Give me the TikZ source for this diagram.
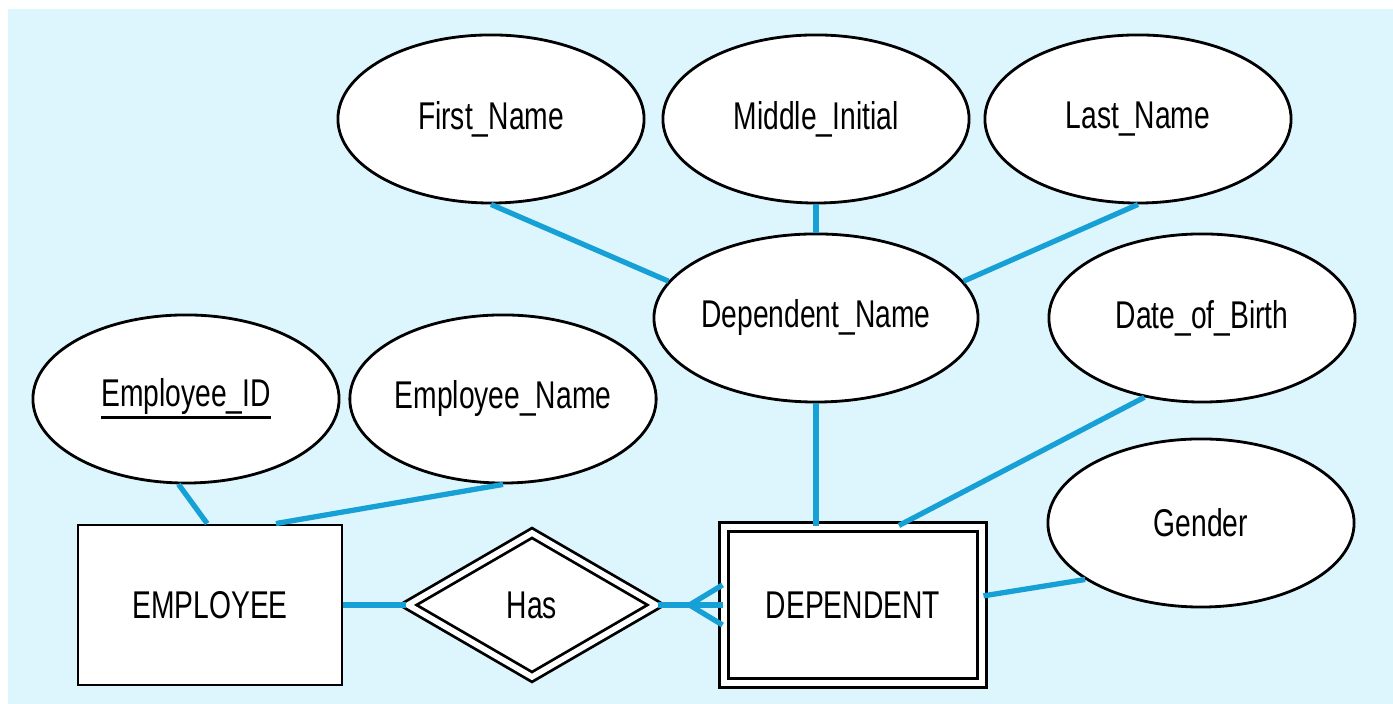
\documentclass[tikz,border=0pt]{standalone}
\usepackage{fontspec}
\setmainfont{Liberation Sans}[FakeStretch=0.73]
\usetikzlibrary{shapes.geometric,positioning}
\definecolor{bgblue}{RGB}{221,246,254}
\definecolor{linkblue}{RGB}{22,160,214}
\newcommand{\keyattr}[1]{\vtop{\hbox{#1}\kern0.5pt\hrule height 0.9pt}}

\begin{document}
\begin{tikzpicture}[x=0.01cm,y=0.01cm,
  attr/.style={ellipse,draw,fill=white,line width=0.8pt,inner sep=0pt,
    minimum width=3.06cm,minimum height=1.68cm,font=\fontsize{11}{13}\selectfont},
  entity/.style={rectangle,draw,fill=white,line width=0.8pt,inner sep=0pt,
    minimum width=2.64cm,minimum height=1.6cm,font=\fontsize{11}{13}\selectfont},
  weakentity/.style={entity,double,double distance=1.6pt,
    minimum width=2.58cm,minimum height=1.56cm},
  idrel/.style={diamond,draw,fill=white,line width=0.8pt,inner sep=0pt,
    double,double distance=1.6pt,minimum width=2.49cm,minimum height=1.45cm,
    font=\fontsize{11}{13}\selectfont},
  link/.style={linkblue,line width=1.5pt}]
  \useasboundingbox (0,0) rectangle (1393,704);
  \fill[bgblue] (8,0) rectangle (1393,695);
  % attributes
  \node[attr] (fname) at (491,585) {First\_Name};
  \node[attr] (minit) at (816,585) {Middle\_Initial};
  \node[attr] (lname) at (1138,585) {Last\_Name};
  \node[attr] (dname) at (816,386) {Dependent\_Name};
  \node[attr] (dob) at (1202,386) {Date\_of\_Birth};
  \node[attr] (empid) at (186,305) {\keyattr{Employee\_ID}};
  \node[attr] (ename) at (503,305) {Employee\_Name};
  \node[attr] (gender) at (1201,181) {Gender};
  % entities and relationship
  \node[entity] (emp) at (210,99) {EMPLOYEE};
  \node[idrel] (has) at (532,99) {Has};
  \node[weakentity] (dep) at (853,99) {DEPENDENT};
  % connectors
  \draw[link] (fname.south) -- (dname.166);
  \draw[link] (minit.south) -- (dname.north);
  \draw[link] (lname.south) -- (dname.14);
  \draw[link] (dname.south) -- (dname.south |- dep.north);
  \draw[link] (dob.234) -- (dep.60);
  \draw[link] (gender.206) -- (dep.4);
  \draw[link] (empid.265) -- (emp.92);
  \draw[link] (ename.south) -- (emp.51);
  \draw[link] (emp.east) -- (has.west);
  \draw[link] (has.east) -- (dep.west);
  \coordinate[left=0.33cm of dep.west] (fork);
  \draw[link] (fork) -- ([yshift=0.2cm]dep.west);
  \draw[link] (fork) -- ([yshift=-0.2cm]dep.west);
\end{tikzpicture}
\end{document}
